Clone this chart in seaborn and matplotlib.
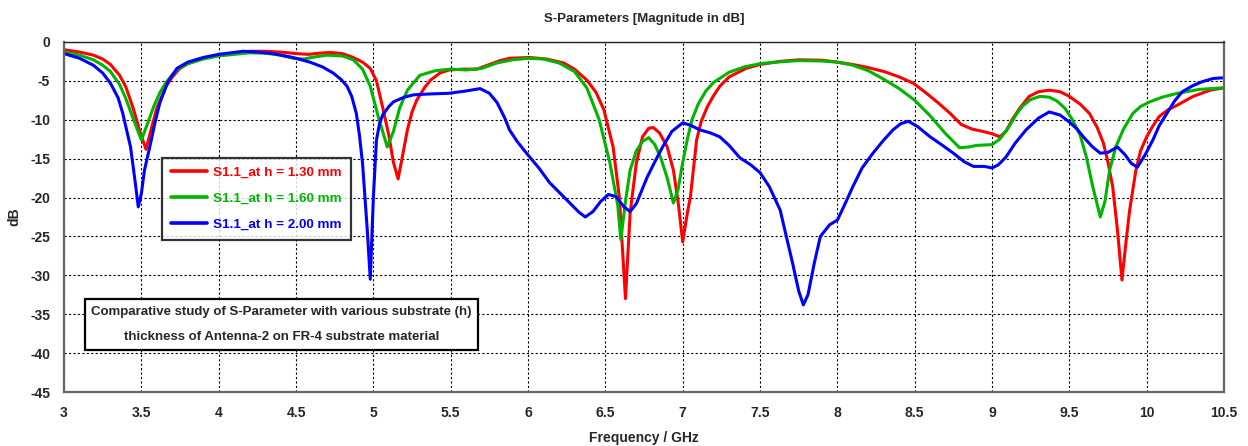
import numpy as np
import pandas as pd
import matplotlib
matplotlib.use("Agg")
import matplotlib.pyplot as plt
import seaborn as sns

# values (frequency in GHz, S11 in dB)
freq_130 = [3.0, 3.1, 3.19, 3.25, 3.3, 3.36, 3.4, 3.45, 3.49, 3.53, 3.56, 3.6, 3.66, 3.7, 3.75,
            3.8, 3.9, 4.0, 4.1, 4.2, 4.3, 4.4, 4.5, 4.58, 4.65, 4.72, 4.8, 4.87, 4.93, 4.98,
            5.02, 5.06, 5.1, 5.13, 5.16, 5.19, 5.22, 5.25, 5.28, 5.33, 5.37, 5.43, 5.49, 5.58,
            5.67, 5.75, 5.82, 5.88, 6.01, 6.12, 6.23, 6.3, 6.38, 6.44, 6.49, 6.55, 6.59, 6.63,
            6.66, 6.70, 6.74, 6.78, 6.81, 6.85, 6.9, 6.94, 6.97, 7.0, 7.03, 7.05, 7.09, 7.12,
            7.16, 7.2, 7.24, 7.3, 7.41, 7.5, 7.63, 7.75, 7.9, 8.0, 8.1, 8.2, 8.3, 8.4, 8.49,
            8.57, 8.65, 8.73, 8.8, 8.87, 8.94, 9.0, 9.05, 9.09, 9.13, 9.18, 9.24, 9.3, 9.37,
            9.44, 9.5, 9.57, 9.63, 9.68, 9.72, 9.75, 9.78, 9.81, 9.84, 9.87, 9.89, 9.93, 9.96,
            10.0, 10.04, 10.08, 10.14, 10.2, 10.3, 10.41, 10.5]
db_130 = [-1.0, -1.3, -1.7, -2.2, -2.9, -4.3, -5.8, -8.7, -11.5, -13.8, -11.5, -8.5, -5.7, -4.5, -3.4,
          -2.8, -2.1, -1.7, -1.4, -1.2, -1.2, -1.3, -1.5, -1.6, -1.45, -1.35, -1.5, -2.0, -2.6, -3.4,
          -5.0, -8.4, -12.0, -15.5, -17.6, -14.5, -11.3, -9.0, -7.5, -5.9, -4.9, -4.0, -3.6, -3.5,
          -3.5, -2.9, -2.4, -2.1, -2.0, -2.2, -2.7, -3.5, -4.9, -6.5, -8.7, -13.5, -19.9, -33.0,
          -22.0, -15.6, -12.2, -11.1, -11.0, -11.7, -13.5, -16.5, -20.5, -25.7, -22.0, -19.9, -12.6, -10.2,
          -8.3, -6.9, -5.7, -4.5, -3.4, -2.9, -2.5, -2.3, -2.35, -2.6, -2.9, -3.3, -3.8, -4.5, -5.3,
          -6.5, -7.8, -9.2, -10.6, -11.2, -11.5, -11.8, -12.2, -11.5, -10.0, -8.5, -7.0, -6.4, -6.2,
          -6.4, -7.0, -8.0, -9.2, -11.0, -13.0, -15.5, -18.6, -24.0, -30.6, -25.0, -21.6, -16.5, -14.0,
          -12.2, -10.8, -9.6, -8.7, -8.1, -7.0, -6.2, -5.9]

freq_160 = [3.0, 3.1, 3.19, 3.25, 3.3, 3.36, 3.4, 3.45, 3.5, 3.54, 3.58, 3.62, 3.66, 3.7, 3.75,
            3.8, 3.9, 4.0, 4.1, 4.2, 4.3, 4.4, 4.48, 4.55, 4.6, 4.7, 4.8, 4.87, 4.93, 4.98,
            5.03, 5.09, 5.13, 5.17, 5.22, 5.3, 5.4, 5.5, 5.6, 5.7, 5.8, 5.9, 6.0, 6.1, 6.2,
            6.3, 6.38, 6.46, 6.53, 6.58, 6.60, 6.63, 6.66, 6.70, 6.74, 6.78, 6.82, 6.86, 6.9,
            6.94, 6.97, 7.0, 7.03, 7.06, 7.1, 7.15, 7.2, 7.3, 7.4, 7.5, 7.6, 7.75, 7.9, 8.0,
            8.1, 8.2, 8.3, 8.4, 8.5, 8.6, 8.7, 8.79, 8.85, 8.9, 9.0, 9.05, 9.11, 9.16, 9.2,
            9.25, 9.31, 9.37, 9.42, 9.47, 9.52, 9.57, 9.61, 9.65, 9.70, 9.73, 9.76, 9.8, 9.85,
            9.91, 9.96, 10.02, 10.1, 10.2, 10.34, 10.5]
db_160 = [-1.3, -1.7, -2.3, -3.0, -3.8, -5.5, -7.3, -10.0, -12.6, -10.5, -8.3, -6.5, -5.2, -4.2, -3.3,
          -2.8, -2.2, -1.8, -1.6, -1.4, -1.45, -1.7, -2.1, -2.2, -2.0, -1.7, -1.8, -2.3, -3.5, -5.7,
          -9.5, -13.5, -11.5, -8.5, -6.2, -4.3, -3.7, -3.5, -3.6, -3.4, -2.7, -2.3, -2.1, -2.2, -2.7,
          -3.8, -5.9, -10.0, -15.6, -21.0, -25.4, -20.5, -16.5, -14.0, -12.8, -12.3, -13.2, -15.0, -17.5,
          -20.7, -19.0, -15.5, -12.5, -10.0, -8.0, -6.3, -5.2, -3.9, -3.2, -2.8, -2.6, -2.4, -2.45, -2.6,
          -3.0, -3.7, -4.8, -6.0, -7.5, -9.5, -11.8, -13.6, -13.5, -13.3, -13.2, -12.5, -10.9, -9.2, -8.2,
          -7.4, -7.0, -7.1, -7.6, -8.5, -10.0, -12.0, -14.8, -18.5, -22.5, -20.5, -16.5, -13.5, -11.2,
          -9.2, -8.3, -7.7, -7.1, -6.6, -6.1, -5.9]

freq_200 = [3.0, 3.1, 3.19, 3.25, 3.30, 3.35, 3.38, 3.43, 3.46, 3.48, 3.50, 3.52, 3.56, 3.59, 3.62,
            3.67, 3.73, 3.8, 3.9, 4.0, 4.1, 4.16, 4.25, 4.35, 4.48, 4.59, 4.67, 4.74, 4.79, 4.83,
            4.86, 4.89, 4.91, 4.93, 4.96, 4.98, 5.0, 5.02, 5.04, 5.06, 5.1, 5.13, 5.2, 5.26, 5.35,
            5.49, 5.6, 5.69, 5.75, 5.80, 5.85, 5.88, 5.93, 5.99, 6.07, 6.14, 6.2, 6.27, 6.33, 6.37,
            6.42, 6.47, 6.52, 6.57, 6.62, 6.66, 6.7, 6.77, 6.82, 6.87, 6.93, 7.0, 7.05, 7.11, 7.18,
            7.24, 7.3, 7.37, 7.44, 7.5, 7.56, 7.63, 7.67, 7.71, 7.75, 7.78, 7.81, 7.85, 7.89, 7.95,
            8.0, 8.05, 8.10, 8.16, 8.23, 8.3, 8.36, 8.41, 8.46, 8.52, 8.60, 8.68, 8.75, 8.82, 8.88,
            8.95, 9.0, 9.04, 9.09, 9.15, 9.22, 9.3, 9.37, 9.44, 9.5, 9.55, 9.59, 9.65, 9.7, 9.75,
            9.81, 9.86, 9.9, 9.94, 9.99, 10.04, 10.08, 10.13, 10.18, 10.23, 10.3, 10.36, 10.43, 10.5]
db_200 = [-1.5, -2.1, -3.0, -4.0, -5.3, -7.2, -9.2, -13.5, -18.0, -21.2, -19.5, -16.5, -13.0, -10.2, -7.8,
          -5.2, -3.4, -2.6, -2.0, -1.6, -1.35, -1.2, -1.3, -1.5, -2.0, -2.6, -3.2, -4.0, -4.8, -5.7,
          -7.0, -9.2, -12.0, -15.6, -24.0, -30.5, -20.0, -12.6, -10.5, -9.4, -8.3, -7.7, -7.1, -6.8, -6.7,
          -6.6, -6.3, -6.0, -6.6, -7.8, -9.8, -11.3, -12.8, -14.3, -16.2, -18.1, -19.3, -20.7, -21.9, -22.5,
          -21.8, -20.5, -19.6, -19.9, -21.2, -21.8, -20.8, -17.4, -15.4, -13.5, -11.5, -10.4, -10.7, -11.3, -11.7,
          -12.2, -13.3, -14.9, -15.8, -16.8, -18.6, -21.6, -25.0, -28.4, -32.0, -33.8, -32.5, -28.5, -25.0, -23.5,
          -22.9, -20.8, -18.6, -16.2, -14.3, -12.6, -11.3, -10.5, -10.2, -10.9, -12.2, -13.3, -14.3, -15.4, -16.0,
          -16.0, -16.2, -15.8, -14.8, -13.0, -11.3, -9.8, -9.0, -9.4, -10.3, -11.2, -12.2, -13.5, -14.3, -14.2,
          -13.5, -14.5, -15.6, -16.1, -14.5, -12.6, -10.8, -9.2, -7.6, -6.4, -5.6, -5.1, -4.7, -4.6]

labels = ["S1.1_at h = 1.30 mm", "S1.1_at h = 1.60 mm", "S1.1_at h = 2.00 mm"]
colors = ["#ff0000", "#00b400", "#0000ff"]

df = pd.concat([
    pd.DataFrame({"freq": freq_130, "db": db_130, "curve": labels[0]}),
    pd.DataFrame({"freq": freq_160, "db": db_160, "curve": labels[1]}),
    pd.DataFrame({"freq": freq_200, "db": db_200, "curve": labels[2]}),
], ignore_index=True)

sns.set_style("white")
plt.rcParams["font.family"] = ["Liberation Sans", "DejaVu Sans"]
plt.rcParams["font.weight"] = "bold"

fig = plt.figure(figsize=(12.48, 4.46), dpi=100)
ax = fig.add_axes([0.0513, 0.121, 0.9295, 0.785])

sns.lineplot(data=df, x="freq", y="db", hue="curve", palette=dict(zip(labels, colors)),
             linewidth=2.2, sort=False, estimator=None, ax=ax, legend=False)

ax.set_xlim(3, 10.5)
ax.set_ylim(-45, 0)
xt = np.arange(3, 10.51, 0.5)
ax.set_xticks(xt)
ax.set_xticklabels(["%g" % v for v in xt], fontsize=10, fontweight="bold")
yt = np.arange(-45, 0.1, 5)
ax.set_yticks(yt)
ax.set_yticklabels(["%d" % v for v in yt], fontsize=10, fontweight="bold")
ax.grid(True, color="black", linestyle=(0, (2, 2)), linewidth=0.8)
ax.tick_params(axis="both", direction="out", length=4, width=1, color="#555555", pad=6)
for side in ["left", "bottom", "right"]:
    ax.spines[side].set_color("#666666")
    ax.spines[side].set_linewidth(1.6)
ax.spines["top"].set_color("#222222")
ax.spines["top"].set_linewidth(1.0)

ax.set_xlabel("Frequency / GHz", fontsize=10, fontweight="bold", labelpad=8)
ax.set_ylabel("dB", fontsize=10, fontweight="bold", labelpad=6)
ax.set_title("S-Parameters [Magnitude in dB]", fontsize=9.5, fontweight="bold", pad=14)

handles = [plt.Line2D([], [], color=c, linewidth=2.6) for c in colors]
leg = ax.legend(handles, labels, loc="upper left", bbox_to_anchor=(0.0845, 0.669),
                borderaxespad=0, frameon=True, fancybox=False, edgecolor="black", fontsize=9.7,
                handlelength=2.7, borderpad=0.65, labelspacing=1.0, handletextpad=0.45)
leg.get_frame().set_linewidth(1.6)
for txt, c in zip(leg.get_texts(), colors):
    txt.set_color(c)
    txt.set_fontweight("bold")

ax.text(0.1875, 0.193,
        "Comparative study of S-Parameter with various substrate (h)\n"
        "thickness of Antenna-2 on FR-4 substrate material",
        transform=ax.transAxes, ha="center", va="center", fontsize=9.5, fontweight="bold",
        linespacing=2.5,
        bbox=dict(boxstyle="square,pad=0.5", facecolor="white", edgecolor="black", linewidth=1.6))

fig.savefig("out.png", dpi=100)
